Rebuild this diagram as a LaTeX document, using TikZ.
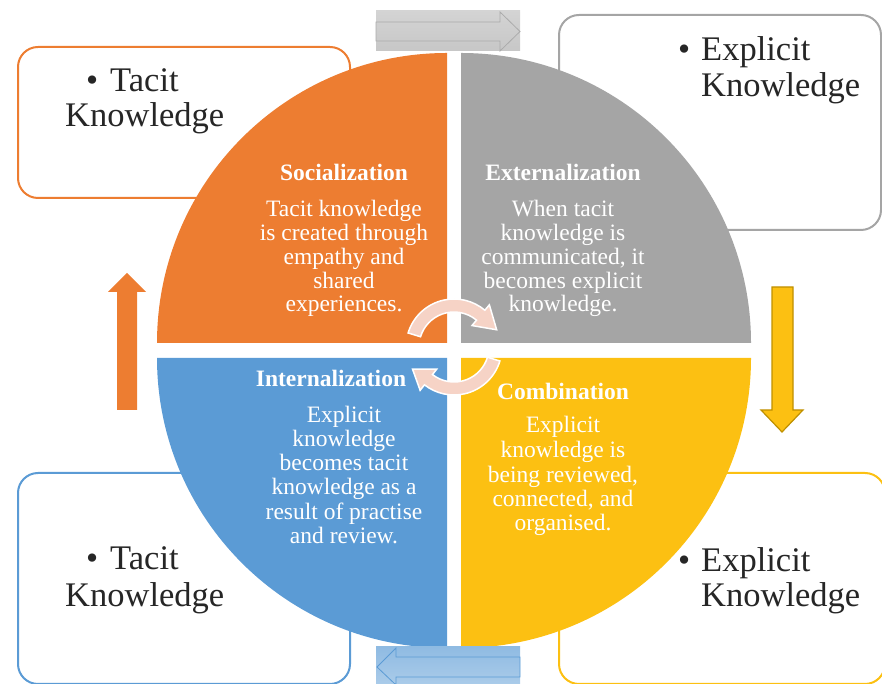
\documentclass[tikz,border=0pt]{standalone}
\usepackage{fontspec}
\setmainfont{Liberation Serif}
\definecolor{corange}{HTML}{ED7D31}
\definecolor{cgray}{HTML}{A5A5A5}
\definecolor{cblue}{HTML}{5B9BD5}
\definecolor{cyellow}{HTML}{FCC012}
\definecolor{cyelline}{HTML}{BF9000}
\definecolor{cpink}{HTML}{F6D3C6}
\definecolor{ctext}{HTML}{262626}
\tikzset{
  kbox/.style={line width=2pt, rounded corners=20pt, fill=white, anchor=north west, inner sep=0pt},
  ktext/.style={font=\fontsize{34.5}{36}\selectfont, text=ctext, inner sep=0pt, anchor=base west},
  qtitle/.style={font=\fontsize{23.5}{24}\selectfont\bfseries, text=white, inner sep=0pt, anchor=base},
  qbody/.style={font=\fontsize{23.5}{24}\selectfont, text=white, inner sep=0pt, anchor=base},
  arcarrow/.style={fill=cpink, draw=white, line width=1.5pt},
}
\begin{document}
\begin{tikzpicture}[x=1pt,y=1pt]
\clip (0,0) rectangle (882,684);
\useasboundingbox (0,0) rectangle (882,684);
% corner boxes
\node[kbox, draw=corange, minimum width=332pt, minimum height=151pt] (tlbox) at (17,638) {};
\node[kbox, draw=cgray, minimum width=322pt, minimum height=215pt] (trbox) at (558,670) {};
\node[kbox, draw=cblue, minimum width=332pt, minimum height=211pt] (blbox) at (17,212) {};
\node[kbox, draw=cyellow, minimum width=326pt, minimum height=211pt] (brbox) at (558,212) {};
% quadrants
\fill[corange] (447,341) -- ++(-290,0) arc[start angle=180, end angle=90, radius=290pt] -- cycle;
\fill[cgray] (461,341) -- ++(0,290) arc[start angle=90, end angle=0, radius=290pt] -- cycle;
\fill[cblue] (447,326) -- ++(0,-290) arc[start angle=270, end angle=180, radius=290pt] -- cycle;
\fill[cyellow] (461,326) -- ++(290,0) arc[start angle=0, end angle=-90, radius=290pt] -- cycle;
% top arrow
\shade[top color=black!17, bottom color=black!22] (376,673) rectangle (520,633);
\draw[black!33, line width=0.8pt] (376,662) -- (500,662) -- (500,672) -- (520,652.5) -- (500,633) -- (500,643) -- (376,643) -- cycle;
% bottom arrow
\shade[top color=cblue!68, bottom color=cblue!52] (376,37) rectangle (520,0);
\draw[cblue, line width=0.8pt] (520,27) -- (396,27) -- (396,36) -- (377,17) -- (396,-1) -- (396,7) -- (520,7) -- cycle;
% left arrow
\fill[corange] (117,274) -- (117,392) -- (108,392) -- (127,411) -- (146,392) -- (137,392) -- (137,274) -- cycle;
% right arrow
\filldraw[fill=cyellow, draw=cyelline, line width=1.2pt] (772,397) -- (793,397) -- (793,274) -- (803,274) -- (782,252) -- (761,274) -- (772,274) -- cycle;
% centre circular arrows
\begin{scope}[shift={(454,337)}]
\path[arcarrow] (163:48pt) arc[start angle=163, end angle=50, radius=48pt] -- (50:55pt) -- (22:46pt) -- (50:28pt) -- (50:35pt) arc[start angle=50, end angle=163, radius=35pt] -- cycle;
\path[arcarrow] (-17:48pt) arc[start angle=-17, end angle=-128, radius=48pt] -- (-128:55pt) -- (-152:47pt) -- (-128:28pt) -- (-128:35pt) arc[start angle=-128, end angle=-17, radius=35pt] -- cycle;
\end{scope}
% quadrant texts
\node[qtitle] (soct) at (344,503) {Socialization};
\node[qbody] (soc1) at (344,467) {Tacit knowledge};
\node[qbody] (soc2) at (344,443.3) {is created through};
\node[qbody] (soc3) at (344,419.6) {empathy and};
\node[qbody] (soc4) at (344,395.9) {shared};
\node[qbody] (soc5) at (344,372.2) {experiences.};
\node[qtitle] (extt) at (563,503) {Externalization};
\node[qbody] (ext1) at (563,467) {When tacit};
\node[qbody] (ext2) at (563,443.3) {knowledge is};
\node[qbody] (ext3) at (563,419.6) {communicated, it};
\node[qbody] (ext4) at (563,395.9) {becomes explicit};
\node[qbody] (ext5) at (563,372.2) {knowledge.};
\node[qtitle] (intt) at (331,297) {Internalization};
\node[qbody] (int1) at (344,261) {Explicit};
\node[qbody] (int2) at (344,237) {knowledge};
\node[qbody] (int3) at (344,213) {becomes tacit};
\node[qbody] (int4) at (344,189) {knowledge as a};
\node[qbody] (int5) at (344,164.5) {result of practise};
\node[qbody] (int6) at (344,140.5) {and review.};
\node[qtitle] (comt) at (563,284) {Combination};
\node[qbody] (com1) at (563,251) {Explicit};
\node[qbody] (com2) at (563,226.5) {knowledge is};
\node[qbody] (com3) at (563,201.5) {being reviewed,};
\node[qbody] (com4) at (563,177) {connected, and};
\node[qbody] (com5) at (563,153.5) {organised.};
% box texts
\node[ktext] (tlb) at (86,592) {•};
\node[ktext] (tl1) at (110,592) {Tacit};
\node[ktext] (tl2) at (65,557) {Knowledge};
\node[ktext] (trb) at (678,623) {•};
\node[ktext] (tr1) at (701,623) {Explicit};
\node[ktext] (tr2) at (701,587) {Knowledge};
\node[ktext] (blb) at (86,114) {•};
\node[ktext] (bl1) at (110,114) {Tacit};
\node[ktext] (bl2) at (65,77) {Knowledge};
\node[ktext] (brb) at (678,112) {•};
\node[ktext] (br1) at (701,112) {Explicit};
\node[ktext] (br2) at (701,77) {Knowledge};
\end{tikzpicture}
\end{document}
